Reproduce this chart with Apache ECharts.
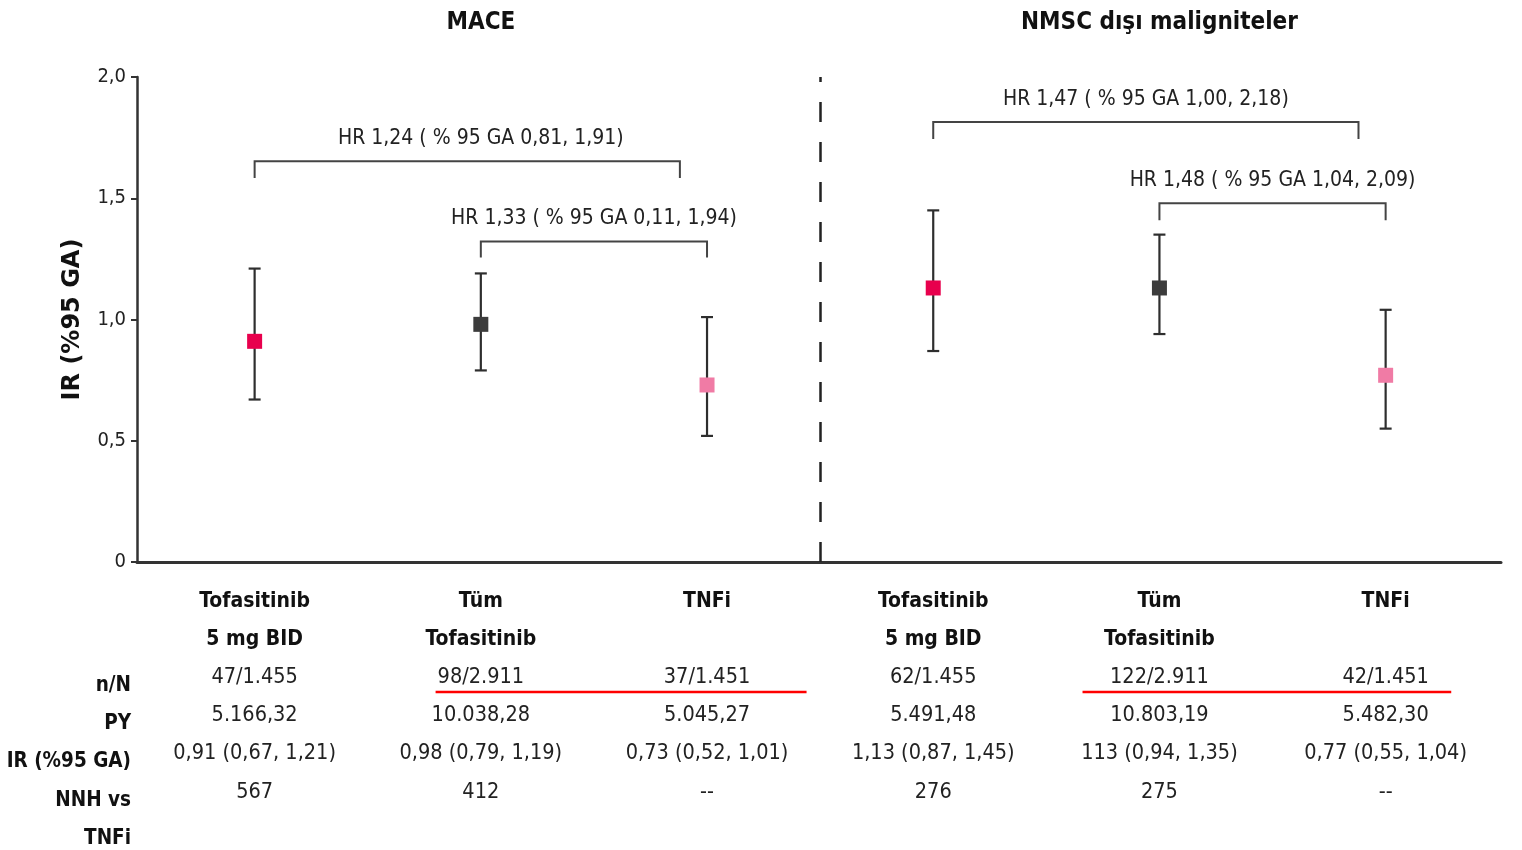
<!DOCTYPE html>
<html>
<head>
<meta charset="utf-8">
<script src="https://cdn.jsdelivr.net/npm/echarts@6/dist/echarts.min.js"></script>
<style>
html,body{margin:0;padding:0;background:#fff;}
#chart{width:1522px;height:850px;}
</style>
</head>
<body>
<div id="chart"></div>
<script>
// ---- data ----
const panelTitles = ['MACE', 'NMSC dışı maligniteler'];
const panelCenters = [1, 4];
const groupHeaders = ['Tofasitinib\n5 mg BID', 'Tüm\nTofasitinib', 'TNFi', 'Tofasitinib\n5 mg BID', 'Tüm\nTofasitinib', 'TNFi'];
const irValues = [0.91, 0.98, 0.73, 1.13, 1.13, 0.77];
const ciLow    = [0.67, 0.79, 0.52, 0.87, 0.94, 0.55];
const ciHigh   = [1.21, 1.19, 1.01, 1.45, 1.35, 1.04];
const rowLabels = ['n/N', 'PY', 'IR (%95 GA)', 'NNH vs', 'TNFi'];
const rowNN  = ['47/1.455', '98/2.911', '37/1.451', '62/1.455', '122/2.911', '42/1.451'];
const rowPY  = ['5.166,32', '10.038,28', '5.045,27', '5.491,48', '10.803,19', '5.482,30'];
const rowIR  = ['0,91 (0,67, 1,21)', '0,98 (0,79, 1,19)', '0,73 (0,52, 1,01)', '1,13 (0,87, 1,45)', '113 (0,94, 1,35)', '0,77 (0,55, 1,04)'];
const rowNNH = ['567', '412', '--', '276', '275', '--'];
// HR brackets
const hrLabels  = ['HR 1,24 ( % 95 GA 0,81, 1,91)', 'HR 1,33 ( % 95 GA 0,11, 1,94)', 'HR 1,47 ( % 95 GA 1,00, 2,18)', 'HR 1,48 ( % 95 GA 1,04, 2,09)'];
const hrFrom    = [0, 1, 3, 4];
const hrTo      = [1.88, 2, 4.88, 5];
const hrTop     = [1.653, 1.322, 1.814, 1.479];
const hrBottom  = [1.583, 1.256, 1.744, 1.409];
const hrLabelX  = [1, 1.5, 3.94, 4.5];
// red underline highlights (in group units)
const ulFrom = [0.8, 3.66];
const ulTo   = [2.44, 5.29];
const separatorX = 2.5;

// ---- styles ----
const markerColors = ['#e8004d', '#3c3c3c', '#f07ba5', '#e8004d', '#3c3c3c', '#f07ba5'];
const FN = '"DejaVu Sans Condensed", "Liberation Sans", sans-serif';

const chart = echarts.init(document.getElementById('chart'), null, {renderer: 'canvas'});

const errData = irValues.map((v, i) => [i, v, ciLow[i], ciHigh[i]]);
const bracketData = hrLabels.map((t, i) => [hrFrom[i], hrTo[i], hrTop[i], hrBottom[i], hrLabelX[i], i]);
const titleData = panelTitles.map((t, i) => [panelCenters[i], 2, i]);
const ulData = ulFrom.map((f, i) => [f, ulTo[i]]);

function fmtNum(v) { return v === 0 ? '0' : v.toFixed(1).replace('.', ','); }

function axisLabelText(value) {
  const i = Math.round(value);
  const hdr = groupHeaders[i].split('\n');
  const h2 = hdr.length > 1 ? hdr[1] : ' ';
  return '{h|' + hdr[0] + '}\n{h|' + h2 + '}\n{v|' + rowNN[i] + '}\n{v|' + rowPY[i] + '}\n{v|' + rowIR[i] + '}\n{v|' + rowNNH[i] + '}';
}

const option = {
  animation: false,
  backgroundColor: '#fff',
  grid: {left: 137, right: 21, top: 77, bottom: 288, containLabel: false},
  xAxis: {
    type: 'value', min: -0.52, max: 5.51,
    splitLine: {show: false},
    axisLine: {show: true, onZero: false, lineStyle: {color: '#333', width: 3}},
    axisTick: {show: false},
    axisLabel: {
      show: true, margin: 20,
      customValues: [0, 1, 2, 3, 4, 5],
      formatter: axisLabelText,
      rich: {
        h: {fontFamily: FN, fontSize: 21, fontWeight: 'bold', color: '#111', lineHeight: 38.2, align: 'center'},
        v: {fontFamily: FN, fontSize: 21.5, color: '#222', lineHeight: 38.2, align: 'center'}
      }
    }
  },
  yAxis: {
    type: 'value', min: 0, max: 2, interval: 0.5,
    name: 'IR (%95 GA)', nameLocation: 'middle', nameGap: 52, nameRotate: 90,
    nameTextStyle: {fontFamily: '"DejaVu Sans", sans-serif', fontWeight: 'bold', fontSize: 24, color: '#111'},
    splitLine: {show: false},
    axisLine: {show: true, onZero: false, lineStyle: {color: '#333', width: 2.5}},
    axisTick: {show: true, length: 6, lineStyle: {color: '#333', width: 2}},
    axisLabel: {formatter: fmtNum, fontFamily: FN, fontSize: 20, color: '#222', margin: 11}
  },
  graphic: rowLabels.map((t, i) => ({
    type: 'text', right: 1522 - 131, top: 675 + i * 38.3,
    style: {text: t, font: 'bold 20.5px ' + FN, fill: '#111', textAlign: 'right'}
  })),
  series: [
    {
      type: 'custom', name: 'err', data: errData, clip: false,
      renderItem: function (params, api) {
        const x = api.value(0), m = api.value(1), lo = api.value(2), hi = api.value(3);
        const pm = api.coord([x, m]), pl = api.coord([x, lo]), ph = api.coord([x, hi]);
        const cap = 6, sz = 15;
        const st = {stroke: '#2e2e2e', lineWidth: 2.2};
        return {type: 'group', children: [
          {type: 'line', shape: {x1: pm[0], y1: pl[1], x2: pm[0], y2: ph[1]}, style: st},
          {type: 'line', shape: {x1: pm[0] - cap, y1: pl[1], x2: pm[0] + cap, y2: pl[1]}, style: st},
          {type: 'line', shape: {x1: pm[0] - cap, y1: ph[1], x2: pm[0] + cap, y2: ph[1]}, style: st},
          {type: 'rect', shape: {x: pm[0] - sz / 2, y: pm[1] - sz / 2, width: sz, height: sz}, style: {fill: markerColors[params.dataIndex]}}
        ]};
      },
      markLine: {
        silent: true, symbol: ['none', 'none'], label: {show: false},
        lineStyle: {type: [20, 20], color: '#222', width: 2.5},
        data: [{xAxis: separatorX}]
      },
      z: 5
    },
    {
      type: 'custom', name: 'brackets', data: bracketData, clip: false,
      renderItem: function (params, api) {
        const x1 = api.value(0), x2 = api.value(1), yt = api.value(2), yb = api.value(3), lx = api.value(4);
        const a = api.coord([x1, yt]), b = api.coord([x2, yt]), c = api.coord([x1, yb]), l = api.coord([lx, yt]);
        return {type: 'group', children: [
          {type: 'polyline', shape: {points: [[a[0], c[1]], a, b, [b[0], c[1]]]}, style: {stroke: '#444', lineWidth: 2, fill: null}},
          {type: 'text', x: l[0], y: a[1] - 23, style: {text: hrLabels[params.dataIndex], font: '21px ' + FN, fill: '#222', textAlign: 'center', textVerticalAlign: 'middle'}}
        ]};
      }
    },
    {
      type: 'custom', name: 'titles', data: titleData, clip: false,
      renderItem: function (params, api) {
        const p = api.coord([api.value(0), api.value(1)]);
        return {type: 'text', x: p[0], y: p[1] - 54, style: {text: panelTitles[params.dataIndex], font: 'bold 24px ' + FN, fill: '#111', textAlign: 'center', textVerticalAlign: 'middle'}};
      }
    },
    {
      type: 'custom', name: 'underline', data: ulData, clip: false,
      renderItem: function (params, api) {
        const a = api.coord([api.value(0), 0]), b = api.coord([api.value(1), 0]);
        const y = a[1] + 130;
        return {type: 'line', shape: {x1: a[0], y1: y, x2: b[0], y2: y}, style: {stroke: '#ff0000', lineWidth: 2.5}};
      }
    }
  ]
};
chart.setOption(option);
</script>
</body>
</html>
